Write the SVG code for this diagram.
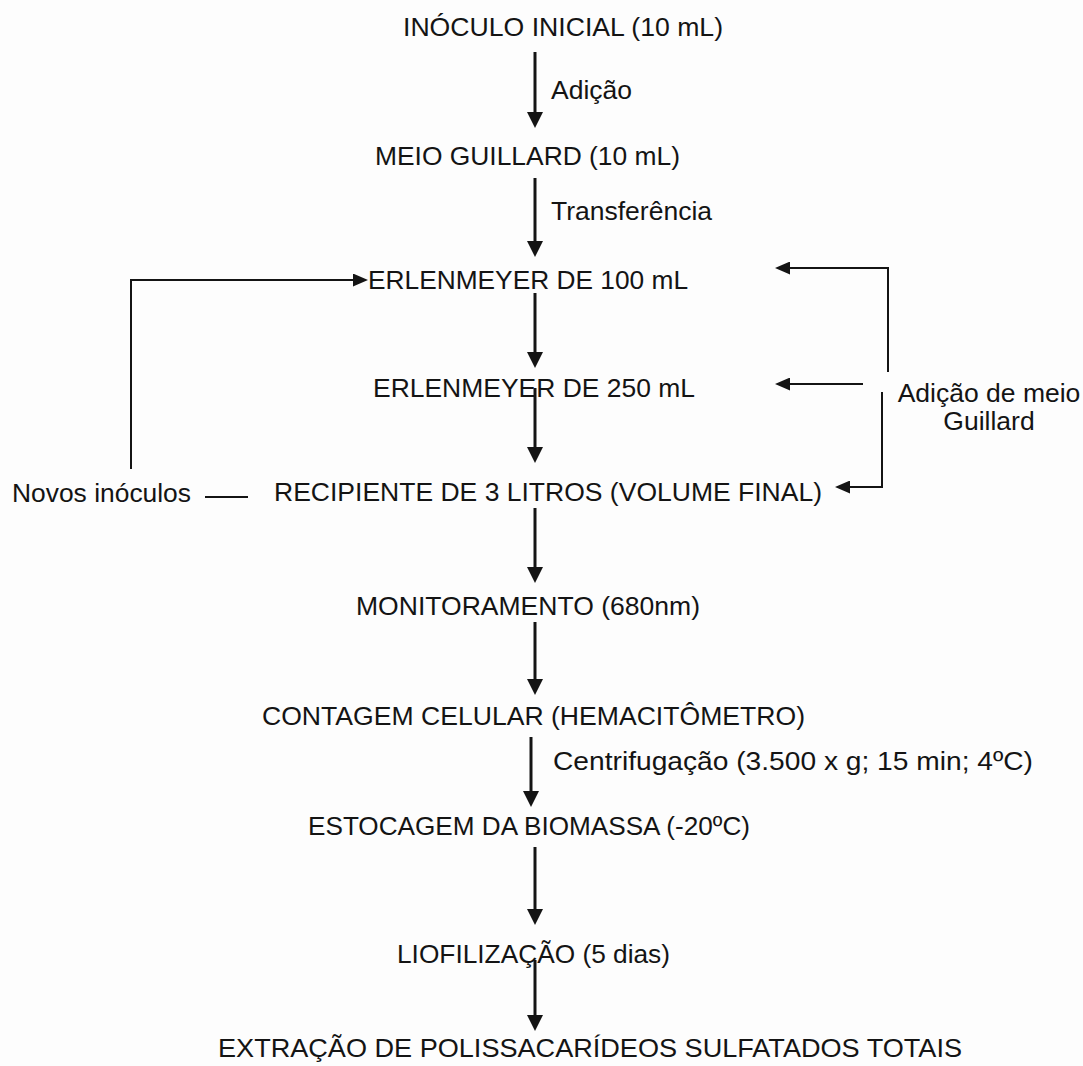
<svg xmlns="http://www.w3.org/2000/svg" width="1083" height="1066" viewBox="0 0 1083 1066">
<style>
text{font-family:"Liberation Sans",Arial,sans-serif;font-size:26.5px;fill:#141414}
.m{text-anchor:middle}
.thick{stroke:#141414;stroke-width:3;fill:none}
.thin{stroke:#141414;stroke-width:2;fill:none}
</style>
<defs>
<marker id="big" markerUnits="userSpaceOnUse" markerWidth="16" markerHeight="16" refX="6" refY="8" orient="auto"><path d="M0,0 L16,8 L0,16 Z" fill="#141414"/></marker>
<marker id="small" markerUnits="userSpaceOnUse" markerWidth="15" markerHeight="13" refX="5" refY="6.5" orient="auto"><path d="M0,0 L15,6.5 L0,13 Z" fill="#141414"/></marker>
</defs>
<rect width="1083" height="1066" fill="#fdfdfd"/>
<g id="connectors">
<line class="thick" x1="535" y1="52" x2="535" y2="118" marker-end="url(#big)"/>
<line class="thick" x1="535" y1="178" x2="535" y2="247" marker-end="url(#big)"/>
<line class="thick" x1="535" y1="293" x2="535" y2="358" marker-end="url(#big)"/>
<line class="thick" x1="535" y1="388" x2="535" y2="453" marker-end="url(#big)"/>
<line class="thick" x1="535" y1="508" x2="535" y2="573" marker-end="url(#big)"/>
<line class="thick" x1="535" y1="622" x2="535" y2="685" marker-end="url(#big)"/>
<line class="thick" x1="531" y1="737" x2="531" y2="797" marker-end="url(#big)"/>
<line class="thick" x1="535" y1="847" x2="535" y2="915" marker-end="url(#big)"/>
<line class="thick" x1="535" y1="960" x2="535" y2="1021" marker-end="url(#big)"/>
<polyline class="thin" points="131,469 131,280 358,280" marker-end="url(#small)"/>
<line class="thin" x1="205" y1="497" x2="248" y2="497"/>
<polyline class="thin" points="888,372 888,268 785,268" marker-end="url(#small)"/>
<line class="thin" x1="863" y1="384" x2="785" y2="384" marker-end="url(#small)"/>
<polyline class="thin" points="882,392 882,487 845,487" marker-end="url(#small)"/>
</g>
<g id="inoculo-inicial"><text x="403" y="36" textLength="320" lengthAdjust="spacingAndGlyphs">INÓCULO INICIAL (10 mL)</text></g>
<g id="label-adicao"><text x="551" y="99">Adição</text></g>
<g id="meio-guillard"><text x="375" y="165" textLength="305" lengthAdjust="spacingAndGlyphs">MEIO GUILLARD (10 mL)</text></g>
<g id="label-transferencia"><text x="551" y="220">Transferência</text></g>
<g id="erlenmeyer-100"><text x="368" y="289" textLength="320" lengthAdjust="spacingAndGlyphs">ERLENMEYER DE 100 mL</text></g>
<g id="erlenmeyer-250"><text x="373" y="397" textLength="322" lengthAdjust="spacingAndGlyphs">ERLENMEYER DE 250 mL</text></g>
<g id="novos-inoculos"><text x="12" y="502" textLength="179" lengthAdjust="spacingAndGlyphs">Novos inóculos</text></g>
<g id="recipiente"><text x="274" y="501" textLength="548" lengthAdjust="spacingAndGlyphs">RECIPIENTE DE 3 LITROS (VOLUME FINAL)</text></g>
<g id="adicao-meio"><text class="m" x="989" y="402">Adição de meio</text><text class="m" x="989" y="430">Guillard</text></g>
<g id="monitoramento"><text x="356" y="615" textLength="344" lengthAdjust="spacingAndGlyphs">MONITORAMENTO (680nm)</text></g>
<g id="contagem"><text x="262" y="725" textLength="543" lengthAdjust="spacingAndGlyphs">CONTAGEM CELULAR (HEMACITÔMETRO)</text></g>
<g id="label-centrifugacao"><text x="553" y="770" textLength="480" lengthAdjust="spacingAndGlyphs">Centrifugação (3.500 x g; 15 min; 4ºC)</text></g>
<g id="estocagem"><text x="308" y="835" textLength="442" lengthAdjust="spacingAndGlyphs">ESTOCAGEM DA BIOMASSA (-20ºC)</text></g>
<g id="liofilizacao"><text x="397" y="963" textLength="273" lengthAdjust="spacingAndGlyphs">LIOFILIZAÇÃO (5 dias)</text></g>
<g id="extracao"><text x="218" y="1057" textLength="744" lengthAdjust="spacingAndGlyphs">EXTRAÇÃO DE POLISSACARÍDEOS SULFATADOS TOTAIS</text></g>
</svg>
